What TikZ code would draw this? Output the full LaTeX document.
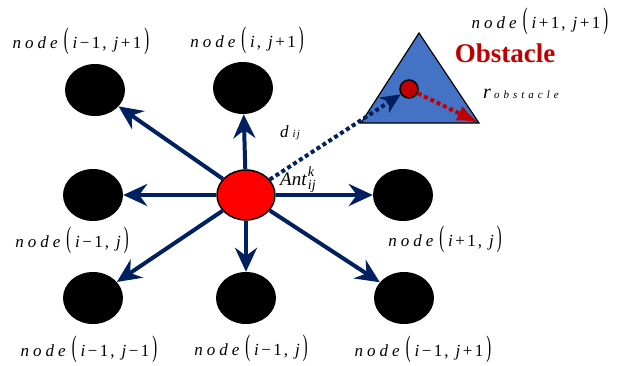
\documentclass[tikz,border=0pt]{standalone}
\usepackage{graphicx}
\usepackage{fontspec}
\setmainfont{Liberation Serif}
\usetikzlibrary{arrows.meta, shapes.geometric, positioning}
\definecolor{antnavy}{HTML}{002060}
\definecolor{obsblue}{HTML}{4472C4}
\definecolor{obsred}{HTML}{C00000}
\newcommand{\bigpar}[1]{\scalebox{0.85}[1.75]{#1}}
\newcommand{\cmin}{\kern2.5pt−\kern2.5pt}
\newcommand{\cplus}{\kern2.5pt+\kern2.5pt}
\newcommand{\cellname}[2]{\textit{n\kern4pt o\kern4pt d\kern4pt e}\kern6pt\bigpar{(}\kern4pt#1\kern2pt,\kern7pt#2\kern3pt\bigpar{)}}

\begin{document}
\begin{tikzpicture}[
  x=1pt, y=-1pt,
  cell/.style={ellipse, fill=black, minimum width=60pt, minimum height=52pt, inner sep=0pt},
  ant/.style={ellipse, draw=black, line width=1.5pt, fill=red, minimum width=58pt, minimum height=50pt, inner sep=0pt},
  move/.style={draw=antnavy, line width=4pt, -{Stealth[length=24pt, width=22pt, inset=8pt]}},
  lbl/.style={font=\fontsize{17}{20}\selectfont, inner sep=0pt, anchor=base}
]
\useasboundingbox (0,0) rectangle (618,365);

% neighbouring grid nodes
\node[cell] (nw) at (95,90) {};
\node[cell] (nn) at (243,88) {};
\node[cell] (ww) at (93,195) {};
\node[cell] (ee) at (403,195) {};
\node[cell] (sw) at (93,298) {};
\node[cell] (ss) at (246,298) {};
\node[cell] (se) at (404,298) {};
\node[ant] (ant) at (246,195) {};

\foreach \cell in {nw,nn,ww,ee,sw,ss,se}
  \draw[move] (ant) -- (\cell);

% obstacle
\draw[fill=obsblue, line width=1.2pt, line join=miter]
  (419,33) coordinate (tri top) -- (361,123) coordinate (tri left)
  -- (479,123) coordinate (tri right) -- cycle;
\node[circle, draw=black, line width=1.5pt, fill=obsred, minimum size=18pt, inner sep=0pt] (obs c) at (409,89) {};
\draw[antnavy, line width=4pt, dash pattern=on 4pt off 3pt,
  -{Stealth[length=20pt, width=18pt, inset=6pt]}] (ant) -- (obs c);
\draw[obsred, line width=4pt, dash pattern=on 4pt off 3pt,
  -{Latex[length=22pt, width=16pt]}] (obs c) -- (tri right);

% labels
\node[lbl] (lbl nw) at (81,48) {\cellname{\textit{i}\cmin1}{\textit{j}\cplus1}};
\node[lbl] (lbl nn) at (247,47) {\cellname{\textit{i}}{\textit{j}\cplus1}};
\node[lbl] (lbl ne) at (540,28) {\cellname{\textit{i}\cplus1}{\textit{j}\cplus1}};
\node[lbl] (lbl ww) at (72,247) {\cellname{\textit{i}\cmin1}{\textit{j}}};
\node[lbl] (lbl ee) at (445,246) {\cellname{\textit{i}\cplus1}{\textit{j}}};
\node[lbl] (lbl sw) at (89,356) {\cellname{\textit{i}\cmin1}{\textit{j}\cmin1}};
\node[lbl] (lbl ss) at (251,355) {\cellname{\textit{i}\cmin1}{\textit{j}}};
\node[lbl] (lbl se) at (423,356) {\cellname{\textit{i}\cmin1}{\textit{j}\cplus1}};

\node[font=\fontsize{27}{30}\selectfont\bfseries, text=obsred, inner sep=0pt] (obs lbl) at (505,53) {Obstacle};
\node[anchor=base west, inner sep=0pt] (r lbl) at (483,98)
  {\fontsize{20}{22}\selectfont\textit{r}\kern3pt{\fontsize{11}{13}\selectfont\textit{o\kern4pt b\kern4pt s\kern4pt t\kern4pt a\kern4pt c\kern4pt l\kern4pt e}}};
\node[anchor=base west, inner sep=0pt] (d lbl) at (280,137)
  {\fontsize{17}{20}\selectfont\textit{d}\kern4pt{\fontsize{11}{13}\selectfont\textit{i\kern1pt j}}};
\node[anchor=base west, inner sep=0pt] (ant lbl) at (280,185)
  {\fontsize{19}{22}\selectfont\textit{Ant}\kern1pt\rlap{\raisebox{9pt}{\fontsize{14}{16}\selectfont\textit{k}}}\raisebox{-4pt}{\fontsize{14}{16}\selectfont\textit{ij}}};
\end{tikzpicture}
\end{document}
